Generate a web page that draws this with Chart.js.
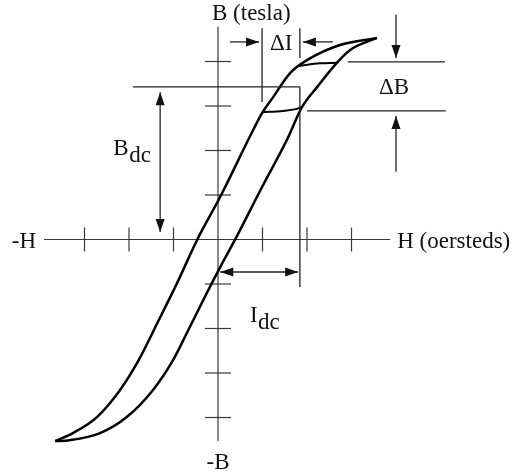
<!DOCTYPE html>
<html>
<head>
<meta charset="utf-8">
<script src="https://cdn.jsdelivr.net/npm/chart.js@4.4.0/dist/chart.umd.min.js"></script>
<style>
  body { margin: 0; background: #fff; }
  canvas { display: block; }
</style>
</head>
<body>
<canvas id="loopChart" width="518" height="476"></canvas>
<script>
// B-H loop, both axes in tick steps (one unit = one tick)
const descendingH = [3.57, 2.74, 2.00, 1.62, 1.24, 0.99, 0.79, 0.05, -0.47, -0.92, -1.33, -1.82, -2.20, -2.72, -3.26, -3.66];
const descendingB = [4.53, 4.37, 4.03, 3.74, 3.20, 2.84, 2.46, 0.96, -0.01, -0.98, -1.81, -2.78, -3.38, -3.99, -4.35, -4.53];
const ascendingH = [-3.66, -3.33, -2.65, -2.05, -1.46, -1.01, -0.70, -0.25, 0.05, 0.38, 0.99, 1.55, 1.89, 2.23, 2.67, 2.97, 3.57];
const ascendingB = [-4.53, -4.51, -4.35, -3.99, -3.38, -2.71, -2.10, -1.20, -0.62, -0.01, 1.18, 2.24, 2.98, 3.43, 3.97, 4.26, 4.53];

// small ripple loop riding on the dc operating point
const minorLowerH = [0.99, 1.46, 1.75, 1.89];
const minorLowerB = [2.86, 2.89, 2.93, 2.98];
const minorUpperH = [1.82, 2.29, 2.67];
const minorUpperB = [3.90, 3.96, 3.97];

const hTicks = [-3, -2, -1, 1, 2, 3];
const bTicks = [-4, -3, -2, -1, 1, 2, 3, 4];
const hAxisRange = [-3.91, 3.87];
const bAxisRange = [-4.53, 4.78];

// dimension markers
const dcCorner = { h: 1.84, b: 3.43 };      // Bdc level / Idc extent
const bdcArrow = { h: -1.30, top: 3.31, bottom: 0.17 };
const idcArrow = { b: -0.73, from: 0.05, to: 1.80, lineEnd: -1.07 };
const deltaI = { left: 0.99, right: 1.84, b: 4.44 };
const deltaB = { top: 3.99, bottom: 2.89, h: 4.00 };

const UNIT = 44.5;           // pixels per tick step
const ORIGIN_X = 218, ORIGIN_Y = 239.5;
const W = 518, H = 476;

const toPoints = (hs, bs) => hs.map((h, i) => ({ x: h, y: bs[i] }));

function arrowHead(ctx, x, y, dx, dy) {
    const len = 13, half = 4.5;
    const n = Math.hypot(dx, dy);
    const ux = dx / n, uy = dy / n;
    ctx.beginPath();
    ctx.moveTo(x, y);
    ctx.lineTo(x - ux * len - uy * half, y - uy * len + ux * half);
    ctx.lineTo(x - ux * len + uy * half, y - uy * len - ux * half);
    ctx.closePath();
    ctx.fill();
}

function segment(ctx, x1, y1, x2, y2) {
    ctx.beginPath();
    ctx.moveTo(x1, y1);
    ctx.lineTo(x2, y2);
    ctx.stroke();
}

function arrow(ctx, x1, y1, x2, y2) {
    segment(ctx, x1, y1, x2, y2);
    arrowHead(ctx, x2, y2, x2 - x1, y2 - y1);
}

const axesPlugin = {
    id: 'bhAxes',
    beforeDatasetsDraw(chart) {
        const ctx = chart.ctx;
        const sx = v => chart.scales.x.getPixelForValue(v);
        const sy = v => chart.scales.y.getPixelForValue(v);
        const x0 = sx(0), y0 = sy(0);

        ctx.save();
        ctx.strokeStyle = '#3a3a3a';
        ctx.lineWidth = 1.2;
        segment(ctx, sx(hAxisRange[0]), y0, sx(hAxisRange[1]), y0);
        segment(ctx, x0, sy(bAxisRange[1]), x0, sy(bAxisRange[0]));
        hTicks.forEach(t => segment(ctx, sx(t), y0 - 12, sx(t), y0 + 12));
        bTicks.forEach(t => segment(ctx, x0 - 13, sy(t), x0 + 13, sy(t)));

        ctx.fillStyle = '#111';
        ctx.font = '23px "Liberation Serif", serif';
        ctx.textAlign = 'left';
        ctx.fillText('B (tesla)', x0 - 6, 20);
        ctx.fillText('H (oersteds)', sx(hAxisRange[1]) + 7, y0 + 8);
        ctx.textAlign = 'right';
        ctx.fillText('-H', sx(hAxisRange[0]) - 8, y0 + 8);
        ctx.textAlign = 'center';
        ctx.fillText('-B', x0, sy(bAxisRange[0]) + 28);
        ctx.restore();
    },
    afterDatasetsDraw(chart) {
        const ctx = chart.ctx;
        const sx = v => chart.scales.x.getPixelForValue(v);
        const sy = v => chart.scales.y.getPixelForValue(v);

        ctx.save();
        ctx.strokeStyle = '#222';
        ctx.fillStyle = '#111';
        ctx.lineWidth = 1.3;

        // Bdc level line and the Idc drop line
        segment(ctx, sx(-1.91), sy(dcCorner.b), sx(dcCorner.h), sy(dcCorner.b));
        segment(ctx, sx(dcCorner.h), sy(dcCorner.b), sx(dcCorner.h), sy(idcArrow.lineEnd));

        // Bdc double arrow
        const bx = sx(bdcArrow.h);
        segment(ctx, bx, sy(bdcArrow.top), bx, sy(bdcArrow.bottom));
        arrowHead(ctx, bx, sy(bdcArrow.top), 0, -1);
        arrowHead(ctx, bx, sy(bdcArrow.bottom), 0, 1);

        // Idc double arrow
        const iy = sy(idcArrow.b);
        segment(ctx, sx(idcArrow.from), iy, sx(idcArrow.to), iy);
        arrowHead(ctx, sx(idcArrow.from), iy, -1, 0);
        arrowHead(ctx, sx(idcArrow.to), iy, 1, 0);

        // delta I markers
        segment(ctx, sx(deltaI.left), sy(4.75), sx(deltaI.left), sy(3.09));
        segment(ctx, sx(deltaI.right), sy(4.75), sx(deltaI.right), sy(4.08));
        const dy = sy(deltaI.b);
        arrow(ctx, sx(0.27), dy, sx(deltaI.left) - 3, dy);
        arrow(ctx, sx(2.58), dy, sx(deltaI.right) + 3, dy);

        // delta B markers
        segment(ctx, sx(2.92), sy(deltaB.top), sx(5.10), sy(deltaB.top));
        segment(ctx, sx(2.00), sy(deltaB.bottom), sx(5.12), sy(deltaB.bottom));
        arrow(ctx, sx(deltaB.h), sy(5.05), sx(deltaB.h), sy(deltaB.top) - 4);
        arrow(ctx, sx(deltaB.h), sy(1.52), sx(deltaB.h), sy(deltaB.bottom) + 5);

        ctx.font = '23px "Liberation Serif", serif';
        ctx.textAlign = 'center';
        ctx.fillText('\u0394B', sx(deltaB.h) - 2, sy((deltaB.top + deltaB.bottom) / 2) + 8);
        ctx.textAlign = 'left';
        ctx.fillText('\u0394I', sx(deltaI.left) + 8, dy + 8);

        // subscripted labels
        ctx.fillText('B', bx - 47, 155);
        ctx.fillText('dc', bx - 31, 162);
        ctx.fillText('I', sx(0) + 32, 322);
        ctx.fillText('dc', sx(0) + 40, 329);
        ctx.restore();
    }
};

const curveStyle = {
    showLine: true,
    borderColor: '#000',
    borderWidth: 2.5,
    pointRadius: 0,
    cubicInterpolationMode: 'monotone',
    fill: false
};

new Chart(document.getElementById('loopChart'), {
    type: 'scatter',
    data: {
        datasets: [
            { label: 'descending', data: toPoints(descendingH, descendingB), ...curveStyle },
            { label: 'ascending', data: toPoints(ascendingH, ascendingB), ...curveStyle },
            { label: 'minor lower', data: toPoints(minorLowerH, minorLowerB), ...curveStyle, borderWidth: 2 },
            { label: 'minor upper', data: toPoints(minorUpperH, minorUpperB), ...curveStyle, borderWidth: 2 }
        ]
    },
    options: {
        responsive: false,
        animation: false,
        layout: { padding: 0 },
        plugins: {
            legend: { display: false },
            tooltip: { enabled: false }
        },
        scales: {
            x: { type: 'linear', display: false, min: -ORIGIN_X / UNIT, max: (W - ORIGIN_X) / UNIT },
            y: { type: 'linear', display: false, min: -(H - ORIGIN_Y) / UNIT, max: ORIGIN_Y / UNIT }
        }
    },
    plugins: [axesPlugin]
});
</script>
</body>
</html>
